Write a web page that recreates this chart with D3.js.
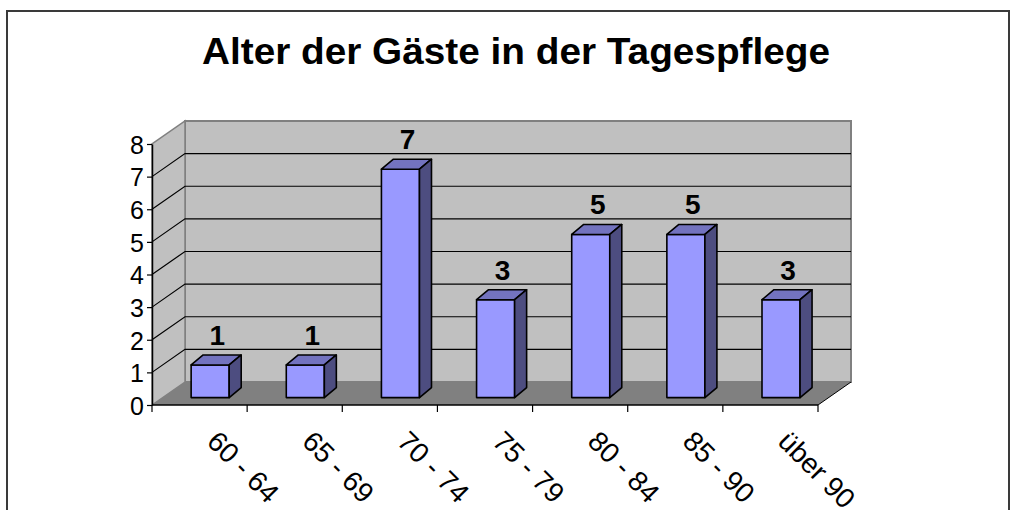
<!DOCTYPE html>
<html>
<head>
<meta charset="utf-8">
<script src="https://cdn.jsdelivr.net/npm/d3@7"></script>
<style>
  body { margin: 0; background: #fff; }
  text { font-family: "Liberation Sans", Arial, sans-serif; }
</style>
</head>
<body>
<div id="chart"></div>
<script>
// chart data
const title = "Alter der Gäste in der Tagespflege";
const categories = ["60 - 64", "65 - 69", "70 - 74", "75 - 79", "80 - 84", "85 - 90", "über 90"];
const values = [1, 1, 7, 3, 5, 5, 3];
const yTicks = [0, 1, 2, 3, 4, 5, 6, 7, 8];

const width = 1011, height = 510;

// front plane of the 3D plot
const plotLeft = 152, plotRight = 818, plotBottom = 405, plotTop = 144;
// depth of the walls (oblique projection)
const depthX = 33, depthY = 23;
// bar placement inside the depth
const barOffX = 10.6, barOffY = 7.4, barDepthX = 12, barDepthY = 10;

const svg = d3.select("#chart")
    .append("svg")
    .attr("width", width)
    .attr("height", height);

// outer border
svg.append("rect")
    .attr("x", 7).attr("y", 11)
    .attr("width", 1002).attr("height", 520)
    .attr("fill", "#fff")
    .attr("stroke", "#3a3a3a")
    .attr("stroke-width", 2);

// title
svg.append("text")
    .attr("x", 516)
    .attr("y", 64)
    .attr("text-anchor", "middle")
    .attr("font-weight", "bold")
    .attr("font-size", 36)
    .attr("textLength", 628)
    .attr("lengthAdjust", "spacingAndGlyphs")
    .text(title);

// scales
const yScale = d3.scaleLinear().domain([0, 8]).range([plotBottom, plotTop]);
const xScale = d3.scaleBand()
    .domain(categories)
    .range([plotLeft, plotRight])
    .paddingInner(0.6)
    .paddingOuter(0.3);
const xCat = d3.scaleBand().domain(categories).range([plotLeft, plotRight]).padding(0);

const pts = p => p.map(d => d.join(",")).join(" ");

// back wall
svg.append("polygon")
    .attr("points", pts([[plotLeft + depthX, yScale(8) - depthY], [plotRight + depthX, yScale(8) - depthY],
        [plotRight + depthX, yScale(0) - depthY], [plotLeft + depthX, yScale(0) - depthY]]))
    .attr("fill", "#c0c0c0")
    .attr("stroke", "#808080")
    .attr("stroke-width", 2);

// side wall
svg.append("polygon")
    .attr("points", pts([[plotLeft, yScale(0)], [plotLeft, yScale(8)],
        [plotLeft + depthX, yScale(8) - depthY], [plotLeft + depthX, yScale(0) - depthY]]))
    .attr("fill", "#c0c0c0")
    .attr("stroke", "#808080")
    .attr("stroke-width", 1.5);

// floor
svg.append("polygon")
    .attr("points", pts([[plotLeft, yScale(0)], [plotRight, yScale(0)],
        [plotRight + depthX, yScale(0) - depthY], [plotLeft + depthX, yScale(0) - depthY]]))
    .attr("fill", "#808080");
svg.append("line")
    .attr("x1", plotRight).attr("y1", yScale(0))
    .attr("x2", plotRight + depthX).attr("y2", yScale(0) - depthY)
    .attr("stroke", "#000").attr("stroke-width", 1);

// gridlines on side and back wall
const grid = yTicks.filter(v => v > 0 && v < 8);
svg.append("g").selectAll("path")
    .data(grid)
    .enter().append("path")
    .attr("d", v => `M${plotLeft},${yScale(v)} L${plotLeft + depthX},${yScale(v) - depthY} L${plotRight + depthX},${yScale(v) - depthY}`)
    .attr("fill", "none")
    .attr("stroke", "#000")
    .attr("stroke-width", 1.2);

// y axis
const yAxis = svg.append("g")
    .attr("transform", `translate(${plotLeft},0)`)
    .call(d3.axisLeft(yScale).tickValues(yTicks).tickSize(5).tickSizeOuter(0).tickPadding(3));
yAxis.select(".domain").attr("stroke", "#000").attr("stroke-width", 1.5);
yAxis.selectAll(".tick line").attr("stroke", "#000").attr("stroke-width", 1.2);
yAxis.selectAll(".tick text")
    .attr("font-family", "Liberation Sans, Arial, sans-serif")
    .attr("font-size", 25)
    .attr("fill", "#000")
    .attr("dy", "0.37em");

// x axis
svg.append("line")
    .attr("x1", plotLeft).attr("y1", plotBottom)
    .attr("x2", plotRight).attr("y2", plotBottom)
    .attr("stroke", "#000").attr("stroke-width", 1.5);
const tickXs = categories.map(c => xCat(c)).concat([plotRight]);
svg.append("g").selectAll("line")
    .data(tickXs)
    .enter().append("line")
    .attr("x1", d => d).attr("x2", d => d)
    .attr("y1", plotBottom).attr("y2", plotBottom + 7)
    .attr("stroke", "#000").attr("stroke-width", 1.2);

svg.append("g").selectAll("text")
    .data(categories)
    .enter().append("text")
    .attr("transform", d => `translate(${xCat(d) + xCat.bandwidth() / 2 + 6},${plotBottom + 38}) rotate(45)`)
    .attr("font-size", 28)
    .attr("fill", "#000")
    .text(d => d);

// bars
const bars = svg.append("g").selectAll("g")
    .data(categories.map((c, i) => ({ cat: c, value: values[i] })))
    .enter().append("g");

const bx = d => xScale(d.cat) + barOffX;
const by0 = yScale(0) - barOffY;
const byT = d => yScale(d.value) - barOffY;
const bw = xScale.bandwidth();

// front
bars.append("polygon")
    .attr("points", d => pts([[bx(d), byT(d)], [bx(d) + bw, byT(d)], [bx(d) + bw, by0], [bx(d), by0]]))
    .attr("fill", "#9999ff")
    .attr("stroke", "#000").attr("stroke-width", 1.6).attr("stroke-linejoin", "round");
// top
bars.append("polygon")
    .attr("points", d => pts([[bx(d), byT(d)], [bx(d) + barDepthX, byT(d) - barDepthY],
        [bx(d) + bw + barDepthX, byT(d) - barDepthY], [bx(d) + bw, byT(d)]]))
    .attr("fill", "#7373bf")
    .attr("stroke", "#000").attr("stroke-width", 1.6).attr("stroke-linejoin", "round");
// side
bars.append("polygon")
    .attr("points", d => pts([[bx(d) + bw, byT(d)], [bx(d) + bw + barDepthX, byT(d) - barDepthY],
        [bx(d) + bw + barDepthX, by0 - barDepthY], [bx(d) + bw, by0]]))
    .attr("fill", "#4d4d80")
    .attr("stroke", "#000").attr("stroke-width", 1.6).attr("stroke-linejoin", "round");

// value labels
bars.append("text")
    .attr("x", d => bx(d) + bw / 2 + 7)
    .attr("y", d => byT(d) - 20)
    .attr("text-anchor", "middle")
    .attr("font-weight", "bold")
    .attr("font-size", 28)
    .attr("fill", "#000")
    .text(d => d.value);
</script>
</body>
</html>
